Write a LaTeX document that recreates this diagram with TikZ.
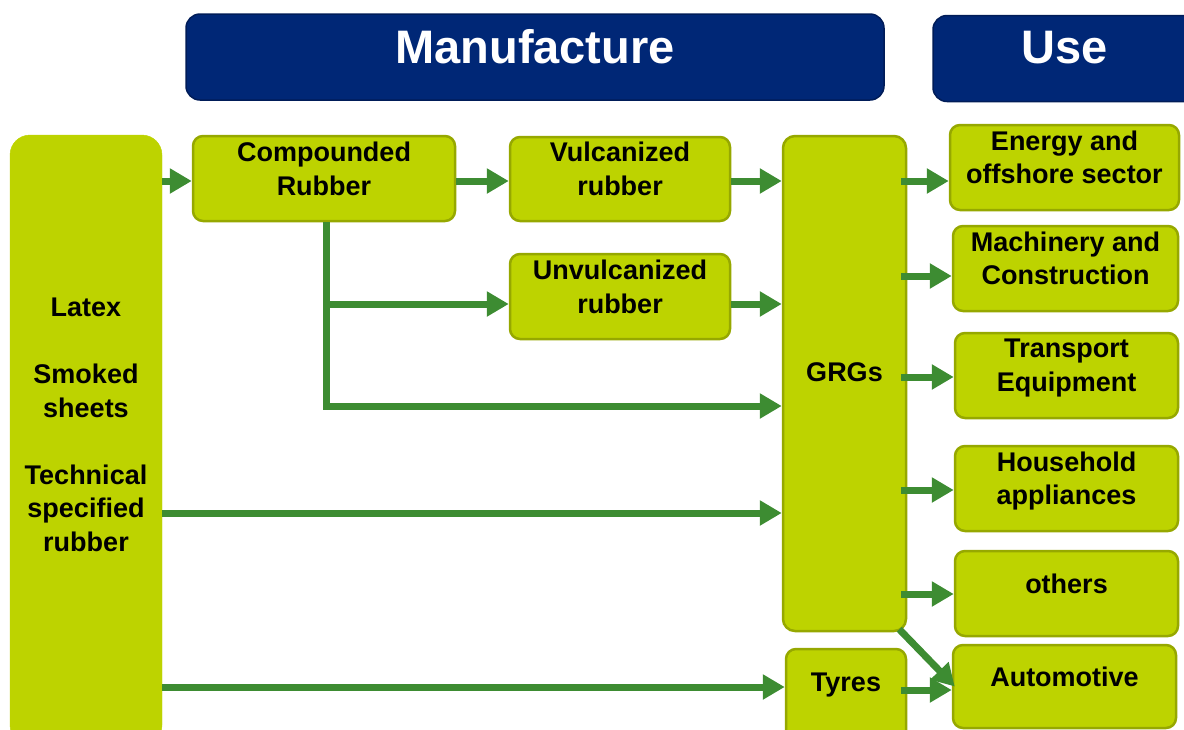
\documentclass[tikz,border=0pt]{standalone}
\usepackage{fontspec}
\setmainfont{Liberation Sans}
\usetikzlibrary{arrows.meta}
\definecolor{lime}{RGB}{189,211,0}
\definecolor{limeborder}{RGB}{150,168,0}
\definecolor{arrgreen}{RGB}{61,140,50}
\definecolor{navy}{RGB}{0,39,118}
\definecolor{navyborder}{RGB}{0,28,88}
\begin{document}
\begin{tikzpicture}[x=1pt,y=-1pt,
  box/.style={draw=limeborder,line width=2.5pt,fill=lime,rounded corners=10pt,inner sep=0pt,minimum height=85pt},
  banner/.style={draw=navyborder,line width=1.5pt,fill=navy,rounded corners=14pt,inner sep=0pt,minimum height=86pt},
  lbl/.style={font=\fontsize{27}{33.5}\selectfont\bfseries,align=center,inner sep=0pt,text depth=0pt},
  hdr/.style={font=\fontsize{47}{50}\selectfont\bfseries,text=white,inner sep=0pt,text depth=0pt},
  arr/.style={draw=arrgreen,line width=7pt,-{Triangle[width=24pt,length=22pt]}}]
\useasboundingbox (0,0) rectangle (1184,729);
\clip (0,0) rectangle (1184,729);

% banners
\node[banner,minimum width=698pt] (mfg) at (535,57) {};
\node[hdr] (mfgt) at (535,46) {Manufacture};
\node[banner,minimum width=270pt] (use) at (1068,58.5) {};
\node[hdr] (uset) at (1064.5,47) {Use};

% left bar
\node[fill=lime,draw=lime,rounded corners=20pt,minimum width=152pt,minimum height=610pt,inner sep=0pt] (leftbar) at (86,440) {};
\node[lbl] (leftt) at (86,424.5) {Latex\\[33.5pt]Smoked\\sheets\\[33.5pt]Technical\\specified\\rubber};

% manufacture boxes
\node[box,minimum width=262pt] (comp) at (324,178.5) {};
\node[lbl] (compt) at ([yshift=10pt]comp.center) {Compounded\\Rubber};
\node[box,minimum width=220pt,minimum height=84pt] (vulc) at (620,179) {};
\node[lbl] (vulct) at ([yshift=10.5pt]vulc.center) {Vulcanized\\rubber};
\node[box,minimum width=220pt] (unvulc) at (620,296.5) {};
\node[lbl] (unvulct) at ([yshift=10pt]unvulc.center) {Unvulcanized\\rubber};
\node[box,minimum width=123pt,minimum height=495pt,rounded corners=12pt] (grgs) at (844.5,383.5) {};
\node[lbl] (grgst) at ([yshift=11pt]grgs.center) {GRGs};
\node[box,minimum width=120pt,minimum height=95pt] (tyres) at (846,696.5) {};
\node[lbl] (tyrest) at (846,682) {Tyres};

% use boxes
\node[box,minimum width=229pt] (energy) at (1064.5,167.5) {};
\node[lbl] (energyt) at ([yshift=10.5pt]energy.center) {Energy and\\offshore sector};
\node[box,minimum width=225pt] (mach) at (1065.5,268.5) {};
\node[lbl] (macht) at ([yshift=10.5pt]mach.center) {Machinery and\\Construction};
\node[box,minimum width=223pt] (trans) at (1066.5,375.5) {};
\node[lbl] (transt) at ([yshift=10.5pt]trans.center) {Transport\\Equipment};
\node[box,minimum width=223pt] (house) at (1066.5,488.5) {};
\node[lbl] (houset) at ([yshift=10.5pt]house.center) {Household\\appliances};
\node[box,minimum width=223pt] (others) at (1066.5,593.5) {};
\node[lbl] (otherst) at ([yshift=9.5pt]others.center) {others};
\node[box,minimum width=223pt,minimum height=83pt] (auto) at (1064.5,686.5) {};
\node[lbl] (autot) at ([yshift=10pt]auto.center) {Automotive};

% connectors
\coordinate (cdn) at (326,406);
\draw[arr] (leftbar.east |- 0,181) -- (comp.west |- 0,181);
\draw[arr] (comp.east |- 0,181) -- (vulc.west |- 0,181);
\draw[arr] (vulc.east |- 0,181) -- (grgs.west |- 0,181);
\draw[arr] (cdn |- comp.south) -- (cdn) -- (cdn -| grgs.west);
\draw[arr] (cdn |- 0,304) -- (unvulc.west |- 0,304);
\draw[arr] (unvulc.east |- 0,304) -- (grgs.west |- 0,304);
\draw[arr] (leftbar.east |- 0,513) -- (grgs.west |- 0,513);
\draw[arr] (leftbar.east |- 0,687) -- (tyres.west |- 0,687);
\draw[arr] ([xshift=-6pt]grgs.east |- 0,181) -- (energy.west |- 0,181);
\draw[arr] ([xshift=-6pt]grgs.east |- 0,276) -- (mach.west |- 0,276);
\draw[arr] ([xshift=-6pt]grgs.east |- 0,377) -- (trans.west |- 0,377);
\draw[arr] ([xshift=-6pt]grgs.east |- 0,490) -- (house.west |- 0,490);
\draw[arr] ([xshift=-6pt]grgs.east |- 0,594) -- (others.west |- 0,594);
\draw[arr] ([xshift=-8pt,yshift=3pt]grgs.south east) -- ([xshift=3pt]auto.west);
\draw[arr] ([xshift=-6pt]tyres.east |- 0,690) -- (auto.west |- 0,690);
\end{tikzpicture}
\end{document}
